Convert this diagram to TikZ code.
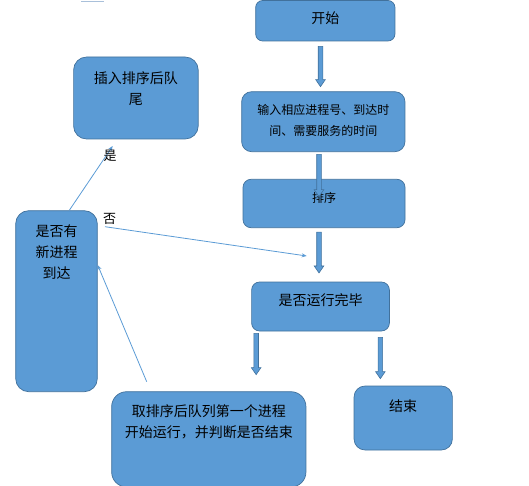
\documentclass[tikz,border=0pt]{standalone}
\usepackage{fontspec}
\setmainfont{Noto Sans CJK SC}
\usetikzlibrary{positioning, arrows.meta, calc}

\definecolor{boxblue}{HTML}{5B9BD5}
\definecolor{edgeblue}{HTML}{41719C}
\definecolor{faintline}{HTML}{A9C0DA}

\tikzset{
  flowbox/.style={draw=edgeblue, fill=boxblue, line width=0.7pt, rounded corners=8pt,
    inner sep=0pt, align=center, text height=12pt, font=\fontsize{14}{21}\selectfont},
  smalltext/.style={font=\fontsize{12}{21}\selectfont},
  blockarrow/.style={draw=edgeblue, fill=boxblue, line width=0.6pt,
    to path={let \p1=(\tikztostart), \p2=(\tikztotarget) in
      (\x1-2.3pt,\y1) -- (\x1-2.3pt,\y2+7pt) -- (\x1-4.8pt,\y2+7pt) -- (\x1,\y2)
      -- (\x1+4.8pt,\y2+7pt) -- (\x1+2.3pt,\y2+7pt) -- (\x1+2.3pt,\y1) -- cycle}},
  thinarrow/.style={draw=boxblue, line width=0.8pt, -{Stealth[length=5pt,width=4pt]}},
  yesno/.style={inner sep=0pt, font=\fontsize{13}{13}\selectfont}
}

\begin{document}
\begin{tikzpicture}[x=1pt, y=-1pt]
   \useasboundingbox (0,0) rectangle (529,486);
   \draw[faintline, line width=0.6pt] (81,1.3) -- (104.3,1.3);

   % main column
   \node[flowbox, rounded corners=7pt, text width=139.3pt, minimum height=40.5pt, text depth=6.3pt] (start) at (325.3,20.75) {开始};
   \node[flowbox, smalltext, rounded corners=10pt, text width=163.3pt, minimum height=60pt, text depth=26.2pt] (input) at (323.3,121.7) {输入相应进程号、到达时\\间、需要服务的时间};
   \node[flowbox, smalltext, text width=162pt, minimum height=48.4pt, text depth=14.8pt] (sort) at (324,203.5) {排序};
   \node[flowbox, text width=137.8pt, minimum height=49pt, text depth=14.4pt] (done) at (320.5,306.5) {是否运行完毕};
   \node[flowbox, rounded corners=15pt, text width=194.3pt, minimum height=95.3pt, text depth=57.1pt] (take) at (208.8,439.35) {取排序后队列第一个进程\\开始运行，并判断是否结束};
   \node[flowbox, rounded corners=11pt, text width=98.3pt, minimum height=64pt, text depth=25.4pt] (finish) at (403.2,418) {结束};

   % left side
   \node[flowbox, rounded corners=13pt, text width=124.6pt, minimum height=82pt, text depth=40.4pt] (insert) at (135.9,98) {插入排序后队\\尾};
   \node[flowbox, rounded corners=13pt, text width=81.6pt, minimum height=181pt, text depth=141.8pt] (newq) at (56.5,301.2) {是否有\\新进程\\到达};

   \draw[blockarrow] ([xshift=-4.8pt,yshift=-5pt]start.south) to ([yshift=4.7pt]input.north);
   \draw[blockarrow] ([xshift=-4.3pt,yshift=-2.3pt]input.south) to ([yshift=-17.7pt]sort.north);
   \draw[blockarrow] ([xshift=-5pt,yshift=-4pt]sort.south) to ([yshift=8.7pt]done.north);
   \draw[blockarrow] ([xshift=4.9pt,yshift=-2pt]done.south west) to ([yshift=16.7pt]take.north);
   \draw[blockarrow] ([xshift=-9.4pt,yshift=-6pt]done.south east) to ([yshift=7pt]finish.north);

   % thin connectors
   \coordinate (yestip) at (112.7,146);
   \coordinate (notail) at (105,226.7);
   \coordinate (notip) at (306.7,256);
   \coordinate (backtail) at (146.7,381.7);
   \draw[thinarrow] ([xshift=12.8pt]newq.north) -- (yestip);
   \draw[thinarrow] (notail) -- (notip);
   \draw[thinarrow] (backtail) -- ([yshift=36.2pt]newq.east);
   \node[yesno] (yes) at (110,156) {是};
   \node[yesno] (no) at (109.5,219) {否};
\end{tikzpicture}
\end{document}
